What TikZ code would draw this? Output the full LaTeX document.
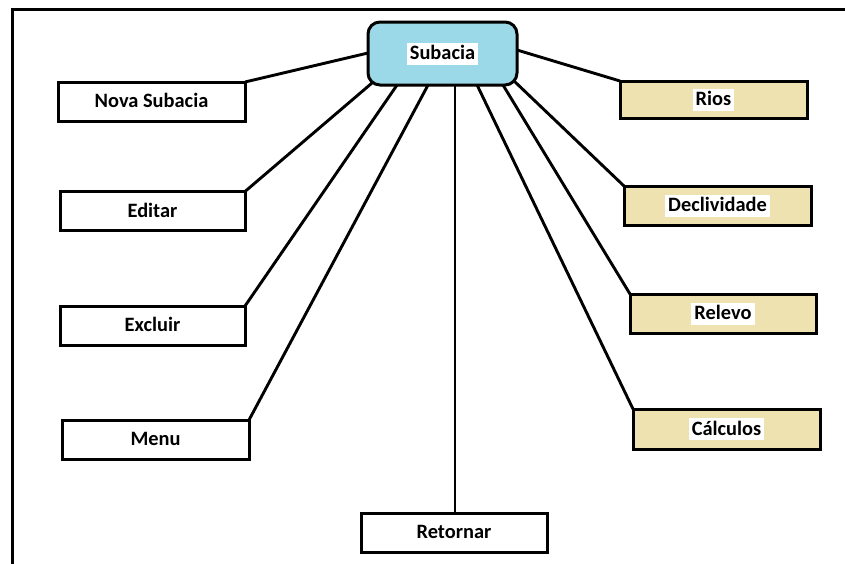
\documentclass[tikz,border=0pt]{standalone}
\usepackage{fontspec}
\setmainfont{Carlito}
\usetikzlibrary{calc}

\definecolor{subblue}{RGB}{155,216,232}
\definecolor{sand}{RGB}{238,226,176}

% text strut: 17pt above the baseline, 5pt below
\newcommand\lblstrut{\rule[-5pt]{0pt}{22pt}}
% highlighted label text: white band behind the words
\newcommand\hlbl[1]{{\setlength\fboxsep{0pt}\colorbox{white}{\lblstrut\hspace{3pt}#1\hspace{3pt}}}}
\newcommand\plbl[1]{\lblstrut#1}

\tikzset{
  menubox/.style={draw=black, line width=3pt, minimum width=187pt, minimum height=39pt,
                  inner sep=0pt, outer sep=0pt,
                  font=\fontsize{20.4}{22}\selectfont\bfseries},
  plainbox/.style={menubox, fill=white},
  toolbox/.style={menubox, fill=sand},
  hubbox/.style={menubox, fill=subblue, rounded corners=12pt,
                 minimum width=149pt, minimum height=63pt},
  link/.style={draw=black, line width=2.9pt},
  frame/.style={draw=black, line width=3pt}
}

\begin{document}
\begin{tikzpicture}[x=1pt, y=-1pt]
  \useasboundingbox (0,0) rectangle (845,563);

  % outer frame (top and left edges)
  \draw[frame] (846,9) -- (12,9) -- (12,564);

  % central node
  \node[hubbox] (sub) at (442.5,53.5) {\hlbl{Subacia}};

  % left column
  \node[plainbox, minimum width=187pt] (nova)    at (151.5,101.5) {\plbl{Nova Subacia}};
  \node[plainbox, minimum width=185pt] (editar)  at (152.5,211)   {\plbl{Editar}};
  \node[plainbox, minimum width=185pt] (excluir) at (152.5,325.5) {\plbl{Excluir}};
  \node[plainbox, minimum width=187pt] (menu)    at (155.5,439.5) {\plbl{Menu}};

  % bottom
  \node[plainbox, minimum width=186pt] (ret) at (454,532.5) {\plbl{Retornar}};

  % right column
  \node[toolbox, minimum height=37pt] (rios)   at (713.5,99.5)  {\hlbl{Rios}};
  \node[toolbox] (decl)   at (717.5,205.5) {\hlbl{Declividade}};
  \node[toolbox, minimum width=186pt] (relevo) at (723,313.5)   {\hlbl{Relevo}};
  \node[toolbox, minimum height=40pt] (calc)   at (726.5,429)   {\hlbl{Cálculos}};

  % attachment points on the central node
  \coordinate (sW)  at ($(sub.west)+(0,-0.5)$);
  \coordinate (sE)  at ($(sub.east)+(0,-3.5)$);
  \coordinate (sSW) at ($(sub.south west)+(4,-2)$);
  \coordinate (sSE) at ($(sub.south east)+(-4,-5)$);
  \coordinate (s1)  at ($(sub.south west)!0.195!(sub.south east)$);
  \coordinate (s2)  at ($(sub.south west)!0.403!(sub.south east)$);
  \coordinate (s3)  at ($(sub.south west)!0.584!(sub.south east)$);
  \coordinate (s4)  at ($(sub.south west)!0.732!(sub.south east)$);
  \coordinate (s5)  at ($(sub.south west)!0.906!(sub.south east)$);

  % connectors
  \draw[link] (nova.north east)    -- (sW);
  \draw[link] (editar.north east)  -- (sSW);
  \draw[link] (excluir.north east) -- (s1);
  \draw[link] (menu.north east)    -- (s2);
  \draw[link] (ret.north -| s3)    -- (s3);
  \draw[link] (calc.north west)    -- (s4);
  \draw[link] (relevo.north west)  -- (s5);
  \draw[link] (decl.north west)    -- (sSE);
  \draw[link] (rios.north west)    -- (sE);
\end{tikzpicture}
\end{document}
